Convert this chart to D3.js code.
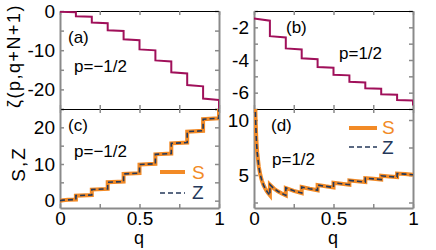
<!DOCTYPE html>
<html>
<head>
<meta charset="utf-8">
<script src="https://cdn.jsdelivr.net/npm/d3@7"></script>
<style>
  body { margin: 0; background: #fff; }
  text { font-family: "Liberation Sans", Arial, sans-serif; }
</style>
</head>
<body>
<svg id="chart" width="436" height="250"></svg>
<script>
// panel (a): zeta(-1/2, q+N+1), step ends
var qA = [0, 0.1, 0.1, 0.2, 0.2, 0.3, 0.3, 0.4, 0.4, 0.5, 0.5, 0.6, 0.6, 0.7, 0.7, 0.8, 0.8, 0.9, 0.9, 1, 1];
var zetaA = [-0.21, -0.29, -1.33, -1.46, -2.95, -3.11, -4.93, -5.12, -7.22, -7.44, -9.79, -10.03,
  -12.61, -12.87, -15.65, -15.93, -18.90, -19.21, -22.35, -22.68, -25.99];

// panel (b): zeta(1/2, q+N+1)
var qB = qA;
var zetaB = [-1.46, -1.59, -2.54, -2.62, -3.29, -3.35, -3.90, -3.95, -4.43, -4.47, -4.90, -4.94,
  -5.33, -5.37, -5.73, -5.76, -6.10, -6.13, -6.45, -6.48, -6.78];

// panel (c): S and Z, p=-1/2
var qC = [0, 0.02, 0.05, 0.1, 0.1, 0.2, 0.2, 0.3, 0.3, 0.4, 0.4, 0.5, 0.5, 0.6, 0.6, 0.7, 0.7, 0.8, 0.8, 0.9, 0.9, 1, 1];
var sC = [0, 0.14, 0.22, 0.32, 1.37, 1.54, 3.03, 3.21, 5.02, 5.21, 7.31, 7.51, 9.85, 10.06,
  12.63, 12.85, 15.63, 15.86, 18.82, 19.07, 22.22, 22.47, 25.78];
var zC = [0, 0.14, 0.22, 0.32, 1.37, 1.54, 3.03, 3.21, 5.02, 5.21, 7.31, 7.51, 9.85, 10.06,
  12.63, 12.85, 15.63, 15.86, 18.82, 19.07, 22.22, 22.47, 25.78];

// panel (d): S and Z, p=1/2
var qD = [0.006, 0.008, 0.01, 0.015, 0.02, 0.03, 0.04, 0.05, 0.06, 0.07, 0.08, 0.09, 0.1,
  0.1, 0.125, 0.15, 0.175, 0.2, 0.2, 0.25, 0.3, 0.3, 0.35, 0.4, 0.4, 0.45, 0.5,
  0.5, 0.55, 0.6, 0.6, 0.65, 0.7, 0.7, 0.75, 0.8, 0.8, 0.85, 0.9, 0.9, 0.95, 1];
var sD = [12.91, 11.18, 10.0, 8.16, 7.07, 5.77, 5.0, 4.47, 4.08, 3.78, 3.54, 3.33, 3.16,
  4.12, 3.77, 3.52, 3.31, 3.15, 3.82, 3.56, 3.36, 3.91, 3.75, 3.61, 4.09, 3.97, 3.87,
  4.29, 4.20, 4.12, 4.51, 4.43, 4.36, 4.72, 4.65, 4.59, 4.93, 4.87, 4.81, 5.13, 5.08, 5.02];
var zD = sD.slice();

var xTicks = [0, 0.25, 0.5, 0.75, 1];
var xLabels = [0, 0.5, 1];

var purple = "#a0105a";
var orange = "#f28a26";
var navy = "#24385a";
var gray = "#8a8a8a";

var svg = d3.select("#chart");

function makePanel(id, x0, x1, y0, y1, yDom, yTicks, yLabels, bottomRow) {
  var x = d3.scaleLinear().domain([0, 1]).range([x0, x1]);
  var y = d3.scaleLinear().domain(yDom).range([y1, y0]);

  svg.append("clipPath").attr("id", "clip-" + id)
    .append("rect").attr("x", x0).attr("y", y0).attr("width", x1 - x0).attr("height", y1 - y0);

  var g = svg.append("g").attr("class", "panel-" + id);

  var left = g.append("g").attr("transform", "translate(" + x0 + ",0)")
    .call(d3.axisLeft(y).tickValues(yTicks).tickSizeInner(-4).tickSizeOuter(0).tickPadding(5)
      .tickFormat(function (d) { return yLabels.indexOf(d) >= 0 ? d : ""; }));
  var right = g.append("g").attr("transform", "translate(" + x1 + ",0)")
    .call(d3.axisRight(y).tickValues(yTicks).tickSizeInner(-4).tickSizeOuter(0).tickFormat(""));
  var top = g.append("g").attr("transform", "translate(0," + y0 + ")")
    .call(d3.axisTop(x).tickValues(xTicks).tickSizeInner(-4).tickSizeOuter(0).tickFormat(""));
  var bottom = g.append("g").attr("transform", "translate(0," + y1 + ")")
    .call(d3.axisBottom(x).tickValues(xTicks).tickSizeInner(-4).tickSizeOuter(0).tickPadding(3)
      .tickFormat(function (d) { return bottomRow && xLabels.indexOf(d) >= 0 ? d : ""; }));

  [left, right, top, bottom].forEach(function (a) {
    a.selectAll(".tick line").attr("stroke", gray).attr("stroke-width", 1.5);
    a.selectAll("text").attr("fill", "#000").style("font-size", "19px");
  });
  [left, right].forEach(function (a) {
    a.select(".domain").attr("stroke", gray).attr("stroke-width", 2);
  });
  top.select(".domain").attr("stroke", "#000").attr("stroke-width", 1);
  bottom.select(".domain").attr("stroke", bottomRow ? gray : "#000").attr("stroke-width", bottomRow ? 2 : 1);

  return { x: x, y: y, g: g, clip: "url(#clip-" + id + ")" };
}

function drawLine(p, qs, vs, color, width, dash) {
  var pts = qs.map(function (q, i) { return [q, vs[i]]; });
  var line = d3.line().x(function (d) { return p.x(d[0]); }).y(function (d) { return p.y(d[1]); });
  p.g.append("path").datum(pts)
    .attr("clip-path", p.clip)
    .attr("fill", "none")
    .attr("stroke", color)
    .attr("stroke-width", width)
    .attr("stroke-dasharray", dash || null)
    .attr("d", line);
}

function label(x, y, txt, size, color) {
  return svg.append("text").attr("x", x).attr("y", y).text(txt)
    .style("font-size", size + "px").attr("fill", color || "#000");
}

var pa = makePanel("a", 60, 219, 11, 109, [-25, 0], [0, -5, -10, -15, -20, -25], [0, -10, -20], false);
var pb = makePanel("b", 254, 413, 11, 109, [-7, -1], [-1, -2, -3, -4, -5, -6, -7], [-2, -4, -6], false);
var pc = makePanel("c", 60, 219, 109, 208, [-2, 25], [0, 5, 10, 15, 20, 25], [0, 10, 20], true);
var pd = makePanel("d", 254, 413, 109, 208, [2, 11], [2.5, 5, 7.5, 10], [5, 10], true);

drawLine(pa, qA, zetaA, purple, 2);
drawLine(pb, qB, zetaB, purple, 2);
drawLine(pc, qC, sC, orange, 4);
drawLine(pc, qC, zC, navy, 1.6, "5,3");
drawLine(pd, qD, sD, orange, 4);
drawLine(pd, qD, zD, navy, 1.6, "5,3");

// panel tags
label(68, 43, "(a)", 17);
label(74, 72, "p=\u22121/2", 17);
label(286, 33, "(b)", 17);
label(339, 59, "p=1/2", 17);
label(68, 131, "(c)", 17);
label(74, 157, "p=\u22121/2", 17);
label(271, 131, "(d)", 17);
label(272, 165, "p=1/2", 17);

// legends
svg.append("line").attr("x1", 160).attr("x2", 185).attr("y1", 172).attr("y2", 172)
  .attr("stroke", orange).attr("stroke-width", 4);
label(192, 179, "S", 19, orange);
svg.append("line").attr("x1", 160).attr("x2", 185).attr("y1", 193).attr("y2", 193)
  .attr("stroke", navy).attr("stroke-width", 1.6).attr("stroke-dasharray", "5,3");
label(192, 199, "Z", 19, navy);

svg.append("line").attr("x1", 349).attr("x2", 377).attr("y1", 128).attr("y2", 128)
  .attr("stroke", orange).attr("stroke-width", 4);
label(382, 134, "S", 19, orange);
svg.append("line").attr("x1", 349).attr("x2", 377).attr("y1", 147).attr("y2", 147)
  .attr("stroke", navy).attr("stroke-width", 1.6).attr("stroke-dasharray", "5,3");
label(382, 154, "Z", 19, navy);

// axis titles
svg.append("text").attr("transform", "translate(20,56) rotate(-90)")
  .attr("text-anchor", "middle").style("font-size", "18px").style("letter-spacing", "1.5px")
  .text("\u03b6(p,q+N+1)");
svg.append("text").attr("transform", "translate(25,164) rotate(-90)")
  .attr("text-anchor", "middle").style("font-size", "19px").style("letter-spacing", "2px")
  .text("S,Z");
svg.append("text").attr("x", 139).attr("y", 244).attr("text-anchor", "middle")
  .style("font-size", "18px").text("q");
svg.append("text").attr("x", 333).attr("y", 244).attr("text-anchor", "middle")
  .style("font-size", "18px").text("q");
</script>
</body>
</html>
